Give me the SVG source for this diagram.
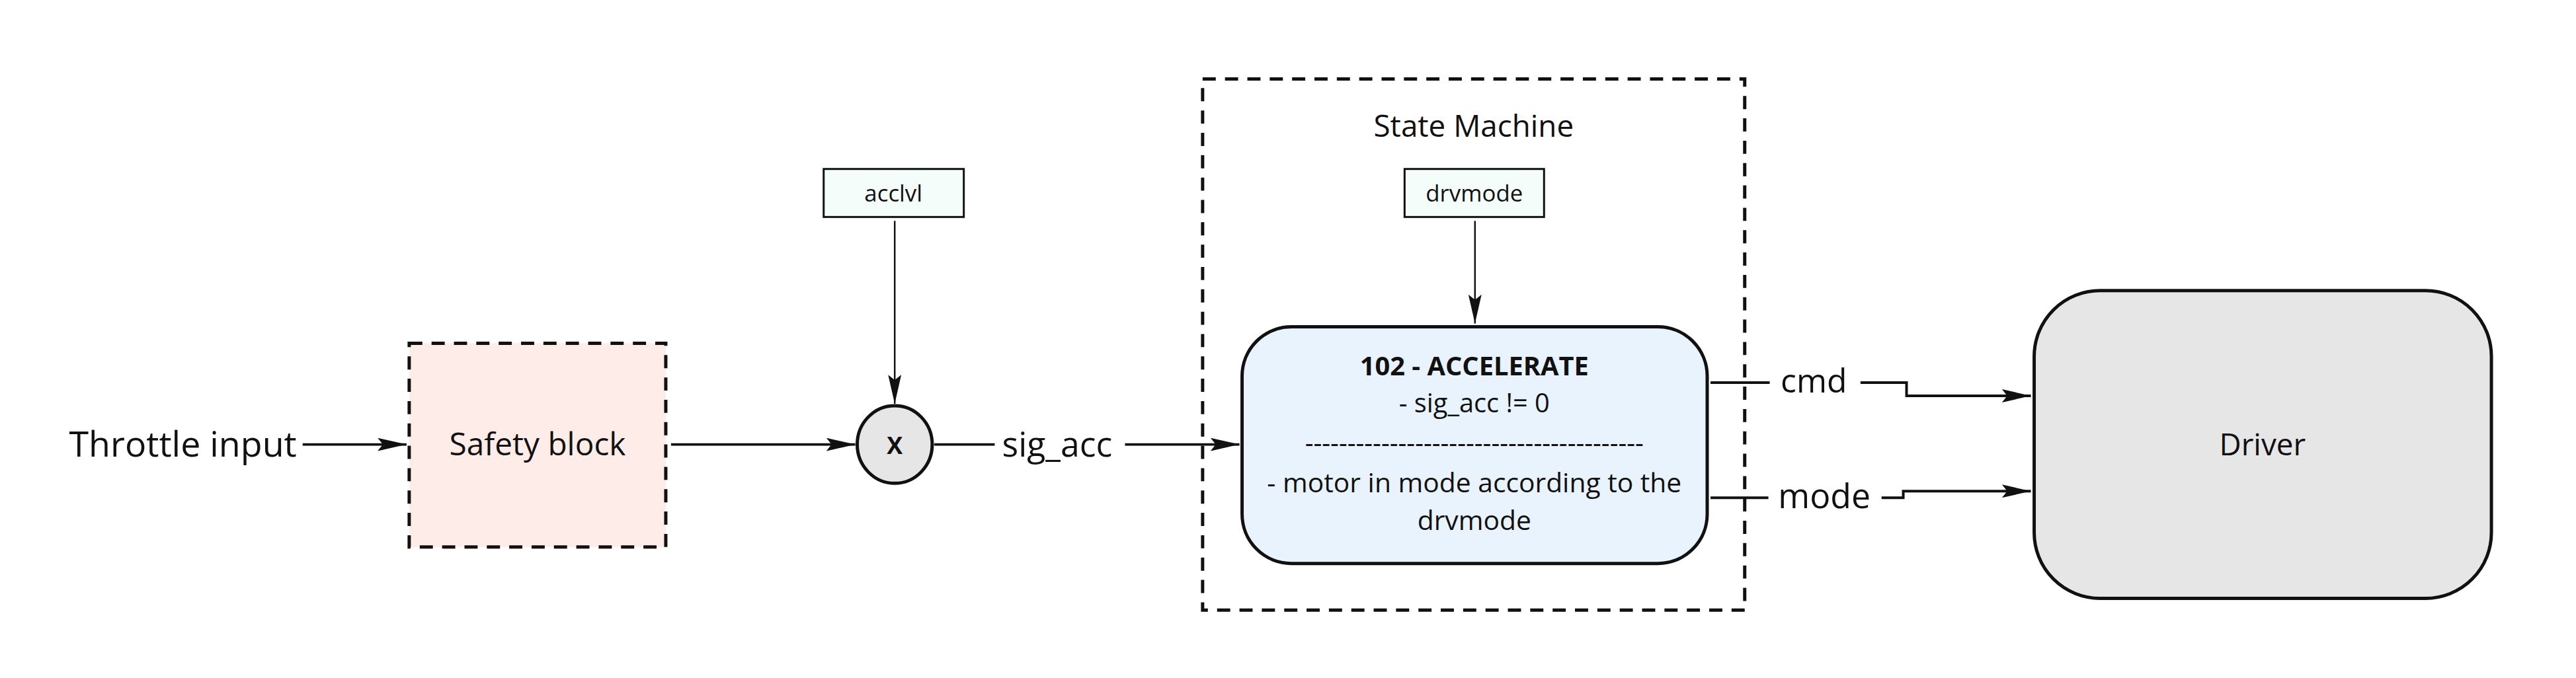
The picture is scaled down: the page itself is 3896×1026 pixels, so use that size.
<svg xmlns="http://www.w3.org/2000/svg" width="3896" height="1026" viewBox="0 0 3896 1026">
<style>
text{font-family:"Open Sans","Liberation Sans",sans-serif;fill:#111;text-anchor:middle;dominant-baseline:central}
.c{fill:none;stroke:#111;stroke-width:4}
.t{fill:none;stroke:#111;stroke-width:2.5}
</style>
<defs>
<marker id="b" viewBox="0 0 44 20" refX="44" refY="10" markerWidth="44" markerHeight="20" orient="auto" markerUnits="userSpaceOnUse"><path d="M0,0L44,10L0,20L8,10z" fill="#111"/></marker>
</defs>
<rect width="3896" height="1026" fill="#fff"/>
<g transform="scale(0.995)">
<g id="state-machine"><rect x="1828" y="120" width="824" height="808" fill="none" stroke="#111" stroke-width="5" stroke-dasharray="20,14"/><text x="2240" y="190" font-size="46">State Machine</text></g>
<g id="throttle"><text x="278" y="674" font-size="54">Throttle input</text></g>
<g id="safety"><rect x="622" y="522" width="390" height="310" fill="#fdece8" stroke="#111" stroke-width="5" stroke-dasharray="20,14"/><text x="817" y="674" font-size="48">Safety block</text></g>
<g id="acclvl"><rect x="1252" y="257" width="213" height="73" fill="#f5fdfb" stroke="#111" stroke-width="3"/><text x="1358" y="293" font-size="35">acclvl</text></g>
<g id="mult"><ellipse cx="1360" cy="676" rx="57" ry="59" fill="#e6e6e6" stroke="#111" stroke-width="5"/><text x="1360" y="676" font-size="36" font-weight="bold">X</text></g>
<g id="drvmode"><rect x="2135" y="257" width="212" height="73" fill="#f5fdfb" stroke="#111" stroke-width="3"/><text x="2241" y="293" font-size="35">drvmode</text></g>
<g id="accelerate"><rect x="1888" y="497" width="707" height="360" rx="75" fill="#e9f3fd" stroke="#111" stroke-width="5"/>
<text x="2241" y="555" font-size="40" font-weight="bold">102 - ACCELERATE</text>
<text x="2241" y="612" font-size="40">- sig_acc != 0</text>
<text x="2241" y="672" font-size="40">----------------------------------------</text>
<text x="2241" y="733" font-size="41">- motor in mode according to the</text>
<text x="2241" y="790" font-size="41">drvmode</text></g>
<g id="driver"><rect x="3092" y="442" width="695" height="468" rx="100" fill="#e6e6e6" stroke="#111" stroke-width="5"/><text x="3439" y="674" font-size="46">Driver</text></g>
<g id="connectors">
<line class="c" x1="460" y1="676" x2="618" y2="676" marker-end="url(#b)"/>
<line class="c" x1="1020" y1="676" x2="1300" y2="676" marker-end="url(#b)"/>
<line class="t" x1="1360" y1="336" x2="1360" y2="614" marker-end="url(#b)"/>
<line class="c" x1="1420" y1="676" x2="1512" y2="676"/>
<text x="1607" y="674" font-size="52">sig_acc</text>
<line class="c" x1="1710" y1="676" x2="1884" y2="676" marker-end="url(#b)"/>
<line class="t" x1="2242" y1="336" x2="2242" y2="492" marker-end="url(#b)"/>
<line class="c" x1="2600" y1="582" x2="2690" y2="582"/>
<text x="2757" y="578" font-size="50">cmd</text>
<polyline class="c" points="2828,582 2898,582 2898,602 3087,602" marker-end="url(#b)"/>
<line class="c" x1="2600" y1="757" x2="2688" y2="757"/>
<text x="2773" y="753" font-size="52">mode</text>
<polyline class="c" points="2860,757 2893,757 2893,747 3087,747" marker-end="url(#b)"/>
</g>
</g>
</svg>
